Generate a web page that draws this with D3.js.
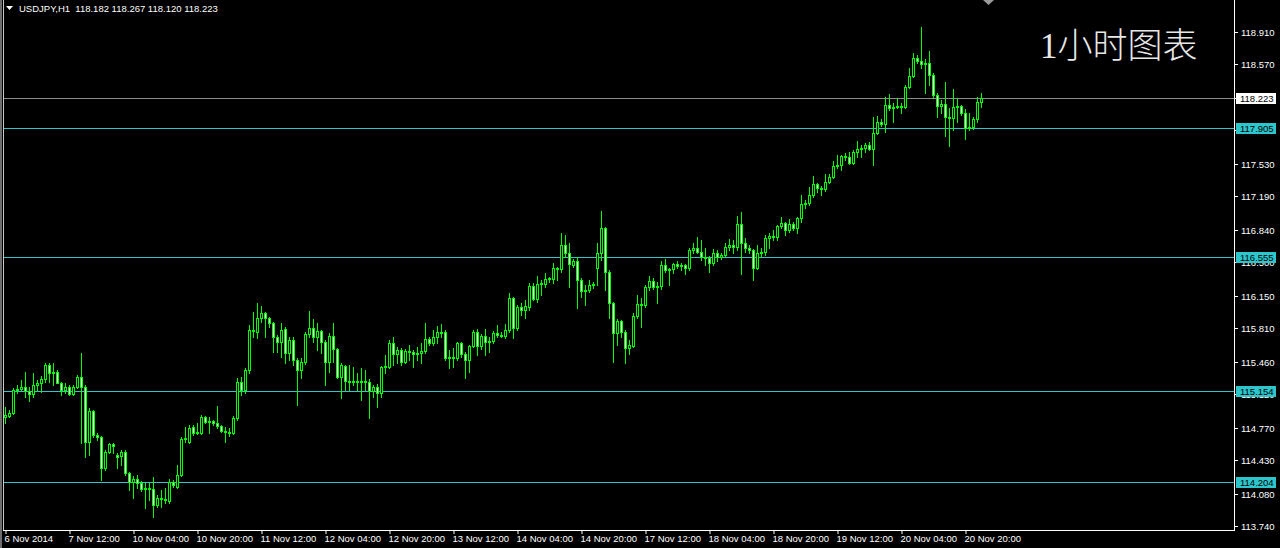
<!DOCTYPE html>
<html><head><meta charset="utf-8">
<script src="https://cdn.jsdelivr.net/npm/d3@7/dist/d3.min.js"></script>
<style>
html,body{margin:0;padding:0;background:#000;overflow:hidden;}
svg{display:block;}
</style></head>
<body>
<svg id="chart" width="1280" height="548"></svg>
<script>
// ---- Data (USDJPY H1, bar 0 = 6 Nov 2014 20:00) ----
const symbol = "USDJPY,H1";
const open = [114.881,114.891,114.923,115.163,115.174,115.195,115.153,115.121,115.216,115.237,115.278,115.425,115.341,115.352,115.237,115.163,115.195,115.121,115.195,115.299,115.195,114.619,114.943,114.692,114.671,114.347,114.514,114.598,114.483,114.472,114.514,114.294,114.200,114.232,114.190,114.127,114.138,114.127,113.960,114.033,114.022,114.002,114.200,114.148,114.273,114.650,114.619,114.776,114.713,114.713,114.881,114.828,114.839,114.818,114.787,114.734,114.724,114.713,114.870,115.247,115.163,115.373,115.791,115.770,115.917,115.969,115.917,115.865,115.718,115.666,115.802,115.551,115.687,115.477,115.373,115.456,115.750,115.812,115.718,115.781,115.666,115.456,115.729,115.593,115.299,115.415,115.258,115.247,115.258,115.247,115.258,115.247,115.153,115.195,115.132,115.404,115.404,115.655,115.540,115.582,115.456,115.572,115.561,115.540,115.551,115.572,115.697,115.655,115.718,115.770,115.770,115.498,115.509,115.498,115.655,115.540,115.477,115.624,115.770,115.624,115.729,115.666,115.676,115.760,115.739,115.729,115.791,116.126,115.812,116.032,116.000,116.032,116.252,116.116,116.273,116.273,116.325,116.325,116.440,116.430,116.681,116.597,116.471,116.513,116.315,116.199,116.210,116.262,116.440,116.597,116.859,116.398,116.074,115.760,115.886,115.770,115.603,115.624,115.938,116.063,116.053,116.242,116.304,116.242,116.252,116.471,116.419,116.430,116.482,116.461,116.471,116.440,116.629,116.649,116.607,116.555,116.545,116.492,116.597,116.555,116.576,116.660,116.681,116.660,116.901,116.702,116.649,116.629,116.440,116.597,116.607,116.754,116.775,116.764,116.880,116.911,116.838,116.901,116.859,116.963,117.110,117.120,117.204,117.319,117.277,117.267,117.340,117.393,117.508,117.518,117.612,117.602,117.539,117.654,117.686,117.696,117.727,117.686,117.853,117.968,117.947,118.146,118.115,118.125,118.136,118.125,118.334,118.450,118.638,118.607,118.575,118.586,118.460,118.251,118.136,118.157,118.021,118.010,118.125,118.136,118.062,117.905,117.916,118.000,118.182];
const high = [114.985,114.954,115.184,115.216,115.268,115.352,115.195,115.341,115.268,115.310,115.446,115.446,115.446,115.373,115.247,115.237,115.216,115.216,115.320,115.551,115.216,114.975,114.954,114.713,114.682,114.535,114.609,114.609,114.504,114.535,114.535,114.305,114.263,114.273,114.211,114.190,114.190,114.253,114.064,114.117,114.138,114.232,114.221,114.378,114.671,114.776,114.797,114.797,114.818,114.902,114.891,114.881,114.849,114.996,114.797,114.776,114.766,114.891,115.289,115.299,115.394,115.844,115.980,116.074,116.042,115.980,115.927,115.875,115.739,115.865,115.823,115.718,115.718,115.498,115.498,115.770,115.990,115.907,115.865,115.791,115.687,115.760,115.865,115.603,115.446,115.425,115.425,115.404,115.341,115.394,115.373,115.278,115.216,115.226,115.415,115.530,115.687,115.718,115.614,115.603,115.593,115.635,115.582,115.614,115.655,115.865,115.718,115.791,115.833,115.854,115.791,115.582,115.603,115.666,115.666,115.561,115.635,115.791,115.802,115.750,115.802,115.718,115.781,115.844,115.770,115.854,116.178,116.137,116.053,116.074,116.105,116.283,116.283,116.357,116.315,116.388,116.346,116.492,116.450,116.806,116.785,116.702,116.534,116.555,116.336,116.262,116.315,116.294,116.702,117.036,116.869,116.419,116.084,115.907,115.896,115.791,115.687,115.969,116.158,116.126,116.262,116.357,116.336,116.294,116.513,116.534,116.440,116.492,116.513,116.492,116.482,116.649,116.702,116.764,116.733,116.649,116.566,116.639,116.629,116.597,116.702,116.743,116.733,116.984,117.026,116.754,116.681,116.639,116.681,116.649,116.785,116.806,116.838,116.890,116.974,116.922,116.953,116.922,116.974,117.204,117.152,117.288,117.403,117.330,117.298,117.424,117.424,117.560,117.623,117.623,117.644,117.654,117.675,117.769,117.727,117.748,117.759,118.021,118.031,118.000,118.230,118.261,118.167,118.219,118.167,118.355,118.533,118.690,118.669,118.962,118.627,118.711,118.481,118.272,118.198,118.387,118.115,118.314,118.219,118.146,118.104,118.062,118.021,118.230,118.267];
const low = [114.818,114.881,114.912,115.132,115.163,115.090,115.048,115.090,115.163,115.142,115.247,115.247,115.216,115.237,115.111,115.132,115.111,115.111,115.184,114.609,114.462,114.483,114.671,114.640,114.221,114.326,114.504,114.504,114.347,114.378,114.273,114.117,114.033,114.138,114.106,113.928,114.012,113.834,113.939,113.939,113.981,113.981,114.148,114.138,114.263,114.619,114.609,114.692,114.703,114.703,114.818,114.713,114.797,114.766,114.724,114.619,114.682,114.703,114.849,115.111,115.132,115.341,115.718,115.708,115.875,115.718,115.823,115.561,115.561,115.509,115.446,115.477,115.425,115.006,115.289,115.435,115.718,115.666,115.582,115.551,115.216,115.352,115.456,115.289,115.080,115.163,115.163,115.216,115.163,115.059,115.163,114.870,115.090,114.985,115.090,115.341,115.394,115.425,115.446,115.425,115.446,115.477,115.404,115.477,115.446,115.551,115.635,115.635,115.655,115.718,115.477,115.394,115.404,115.477,115.509,115.289,115.352,115.614,115.530,115.593,115.530,115.561,115.655,115.718,115.718,115.708,115.770,115.708,115.791,115.948,115.917,116.000,116.105,116.084,116.158,116.242,116.294,116.283,116.315,116.398,116.555,116.242,116.450,116.021,116.137,116.053,116.189,116.231,116.262,116.524,116.210,115.917,115.456,115.635,115.718,115.446,115.540,115.614,115.917,115.823,116.032,116.210,116.220,116.074,116.220,116.398,116.262,116.388,116.440,116.419,116.377,116.419,116.597,116.597,116.524,116.471,116.398,116.471,116.513,116.534,116.566,116.629,116.597,116.629,116.377,116.607,116.597,116.315,116.430,116.555,116.576,116.649,116.733,116.733,116.859,116.785,116.817,116.838,116.806,116.922,117.068,117.099,117.183,117.236,117.204,117.246,117.330,117.382,117.487,117.466,117.570,117.529,117.529,117.602,117.602,117.654,117.675,117.518,117.843,117.926,117.864,118.094,117.968,118.115,118.062,118.115,118.324,118.439,118.586,118.533,118.272,118.355,118.219,118.021,118.062,117.822,117.717,117.884,117.968,118.041,117.790,117.884,117.895,117.968,118.120];
const close = [114.902,114.923,115.163,115.174,115.195,115.153,115.121,115.216,115.237,115.278,115.425,115.341,115.352,115.237,115.163,115.195,115.121,115.195,115.299,115.195,114.619,114.943,114.692,114.671,114.347,114.514,114.598,114.577,114.462,114.514,114.294,114.200,114.232,114.190,114.127,114.138,114.127,113.960,114.033,114.022,114.012,114.200,114.169,114.273,114.650,114.661,114.766,114.713,114.724,114.881,114.828,114.839,114.818,114.787,114.734,114.724,114.713,114.870,115.247,115.163,115.373,115.791,115.781,115.917,115.969,115.917,115.865,115.718,115.666,115.791,115.551,115.687,115.477,115.373,115.456,115.750,115.812,115.718,115.781,115.666,115.456,115.729,115.593,115.299,115.425,115.258,115.247,115.258,115.247,115.258,115.247,115.153,115.195,115.132,115.404,115.415,115.655,115.540,115.582,115.456,115.572,115.561,115.540,115.551,115.572,115.697,115.655,115.718,115.770,115.760,115.498,115.509,115.498,115.655,115.540,115.477,115.624,115.770,115.624,115.729,115.666,115.676,115.760,115.739,115.729,115.791,116.126,115.812,116.032,116.000,116.042,116.252,116.116,116.273,116.283,116.325,116.336,116.440,116.430,116.681,116.597,116.482,116.513,116.315,116.199,116.210,116.262,116.273,116.597,116.859,116.398,116.074,115.760,115.886,115.770,115.603,115.635,115.938,116.063,116.053,116.242,116.304,116.242,116.252,116.471,116.419,116.430,116.482,116.461,116.471,116.440,116.629,116.649,116.607,116.555,116.545,116.492,116.597,116.555,116.576,116.660,116.681,116.660,116.901,116.702,116.649,116.629,116.440,116.597,116.607,116.754,116.775,116.764,116.880,116.911,116.838,116.901,116.859,116.963,117.110,117.120,117.204,117.319,117.277,117.267,117.340,117.393,117.508,117.518,117.612,117.602,117.539,117.654,117.686,117.696,117.727,117.686,117.853,117.968,117.947,118.146,118.115,118.125,118.136,118.125,118.334,118.450,118.638,118.607,118.575,118.586,118.460,118.251,118.136,118.157,118.021,118.010,118.125,118.136,118.062,117.905,117.916,118.000,118.182,118.223];

// time-axis labels every 16 bars
const timeLabelBars = [0,16,32,48,64,80,96,112,128,144,160,176,192,208,224,240];
const timeLabels = ["6 Nov 2014","7 Nov 12:00","10 Nov 04:00","10 Nov 20:00","11 Nov 12:00","12 Nov 04:00","12 Nov 20:00","13 Nov 12:00","14 Nov 04:00","14 Nov 20:00","17 Nov 12:00","18 Nov 04:00","18 Nov 20:00","19 Nov 12:00","20 Nov 04:00","20 Nov 20:00"];
// price-axis tick labels
const priceTicks = ["118.910","118.570","118.220","117.880","117.530","117.190","116.840","116.500","116.150","115.810","115.460","115.120","114.770","114.430","114.080","113.740"];
// horizontal levels
const levelPrices = [117.905, 116.555, 115.154, 114.204];
const bidPrice = 118.223;
const titleText = "1小时图表";

// ---- Layout ----
const svg = d3.select("#chart");
const plotLeft = 3, plotRight = 1234, plotBottom = 530;
const x = d3.scaleLinear().domain([0, open.length - 1]).range([5, 5 + 4 * (open.length - 1)]);
const y = d3.scaleLinear().domain([113.740, 118.910]).range([526, 32]);
const Y = v => Math.round(y(v));

svg.append("rect").attr("width",1280).attr("height",548).attr("fill","#000");

// frame
svg.append("rect").attr("x",0).attr("y",0).attr("width",2).attr("height",548).attr("fill","#6e6e6e");
svg.append("line").attr("x1",plotLeft+0.5).attr("x2",plotLeft+0.5).attr("y1",0).attr("y2",plotBottom).attr("stroke","#c8c8c8");

// levels
const lv = svg.append("g");
levelPrices.forEach(p => {
  lv.append("line").attr("x1",plotLeft+1).attr("x2",plotRight).attr("y1",Y(p)+0.5).attr("y2",Y(p)+0.5)
    .attr("stroke","#33c4c8").attr("stroke-width",1);
});
lv.append("line").attr("x1",plotLeft+1).attr("x2",plotRight).attr("y1",Y(bidPrice)+0.5).attr("y2",Y(bidPrice)+0.5)
  .attr("stroke","#8c8c8c").attr("stroke-width",1);

// candles
const data = open.map((o,i)=>({i,o,h:high[i],l:low[i],c:close[i]}));
const g = svg.append("g");
data.forEach(d => {
  const cx = Math.round(x(d.i));
  const yh = Y(d.h), yl = Y(d.l);
  const top = Y(Math.max(d.o,d.c)), bot = Y(Math.min(d.o,d.c));
  g.append("rect").attr("x",cx).attr("y",yh).attr("width",1).attr("height",Math.max(1,yl-yh+1)).attr("fill","#00ff00");
  const h = bot - top + 1;
  g.append("rect").attr("x",cx-1).attr("y",top).attr("width",3).attr("height",h).attr("fill","#00ff00");
  if (h > 2) {
    g.append("rect").attr("x",cx).attr("y",top+1).attr("width",1).attr("height",h-2)
      .attr("fill", d.c >= d.o ? "#000000" : "#e8ffe0");
  }
});

// bottom axis
const xAxis = d3.axisBottom(x).tickValues(timeLabelBars).tickSize(4)
  .tickFormat((d,i)=>timeLabels[i]);
const gx = svg.append("g").attr("transform",`translate(0,${plotBottom})`).call(xAxis);
gx.select(".domain").attr("stroke","#ffffff").attr("d",`M${plotLeft},0.5H${plotRight+1}`);
gx.selectAll(".tick line").attr("stroke","#ffffff").attr("transform","translate(0.5,0)");
gx.selectAll(".tick text").attr("fill","#ffffff").attr("text-anchor","start").attr("x",-1).attr("dy","0.5em")
  .style("font-family","'Liberation Sans', Arial, sans-serif").style("font-size","9.5px");

// right axis
const tickNums = priceTicks.map(Number);
const yAxis = d3.axisRight(y).tickValues(tickNums).tickSize(4)
  .tickFormat((d,i)=>priceTicks[i]);
const gy = svg.append("g").attr("transform",`translate(${plotRight},0)`).call(yAxis);
gy.select(".domain").attr("stroke","#ffffff").attr("d",`M0.5,0V${plotBottom+1}`);
gy.selectAll(".tick").attr("transform", d => `translate(0,${Y(d)+0.5})`);
gy.selectAll(".tick line").attr("stroke","#ffffff");
gy.selectAll(".tick text").attr("fill","#ffffff").attr("x",7)
  .style("font-family","'Liberation Sans', Arial, sans-serif").style("font-size","9.5px");

// level labels
const boxFont = "'Liberation Sans', Arial, sans-serif";
function levelBox(p, fill, txt) {
  const yy = Y(p);
  svg.append("rect").attr("x",plotRight+2).attr("y",yy-5).attr("width",40).attr("height",11).attr("fill",fill);
  svg.append("text").attr("x",plotRight+6).attr("y",yy+4).attr("fill","#000")
    .style("font-family",boxFont).style("font-size","9.5px").text(txt);
}
levelPrices.forEach(p => levelBox(p, "#2cc6cc", p.toFixed(3)));
levelBox(bidPrice, "#ffffff", bidPrice.toFixed(3));

// header
const last = open.length - 1;
svg.append("path").attr("d","M6,6H13L9.5,10Z").attr("fill","#ffffff");
svg.append("text").attr("x",19).attr("y",12).attr("fill","#ffffff")
  .style("font-family",boxFont).style("font-size","9.5px").attr("xml:space","preserve")
  .text(`${symbol}  ${open[last].toFixed(3)} ${high[last].toFixed(3)} ${low[last].toFixed(3)} ${close[last].toFixed(3)}`);

// chart shift marker
svg.append("path").attr("d","M983,0H994L988.5,5Z").attr("fill","#9a9a9a");

// title
svg.append("text").attr("x",1040).attr("y",58).attr("fill","#e8e8e8")
  .style("font-family","'Liberation Serif', 'Noto Sans CJK SC', serif").style("font-weight","300").style("font-size","35px")
  .text(titleText);
</script>
</body></html>
